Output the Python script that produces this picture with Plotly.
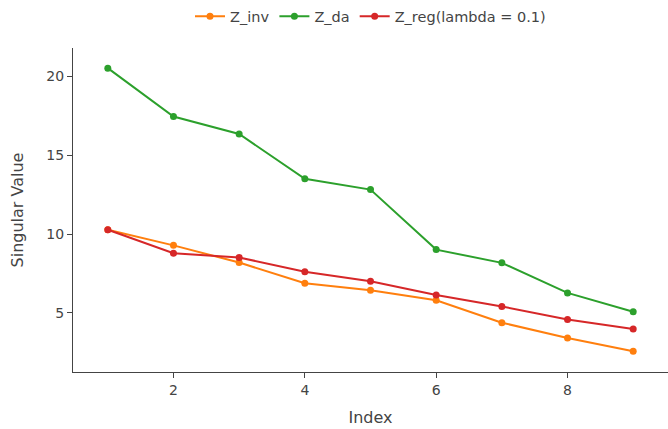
import plotly.graph_objects as go

index = [1, 2, 3, 4, 5, 6, 7, 8, 9]
z_inv = [10.27, 9.28, 8.19, 6.87, 6.43, 5.80, 4.37, 3.40, 2.56]
z_da = [20.53, 17.46, 16.35, 13.51, 12.82, 9.01, 8.17, 6.26, 5.06]
z_reg = [10.27, 8.78, 8.51, 7.61, 7.00, 6.13, 5.40, 4.58, 3.97]

names = ["Z_inv", "Z_da", "Z_reg(lambda = 0.1)"]
colors = ["#ff7f0e", "#2ca02c", "#d62728"]

fig = go.Figure()
for name, ys, c in zip(names, [z_inv, z_da, z_reg], colors):
    fig.add_trace(go.Scatter(x=index, y=ys, mode="lines+markers", name=name,
                             line=dict(color=c, width=2), marker=dict(color=c, size=7)))

fig.update_layout(
    template="simple_white",
    width=668, height=429,
    margin=dict(l=73, r=0, t=45, b=57),
    font=dict(family="DejaVu Sans", size=14, color="#444"),
    legend=dict(orientation="h", x=0.5, xanchor="center", y=1.098, yanchor="middle",
                font=dict(size=14.5)),
    xaxis=dict(title=dict(text="Index", font=dict(size=16)), range=[0.47, 9.53],
               ticks="outside", showline=True, linecolor="#444", tickcolor="#444",
               dtick=2, tick0=0, tickfont=dict(size=14)),
    yaxis=dict(title=dict(text="Singular Value", font=dict(size=16), standoff=18),
               range=[1.24, 21.81],
               ticks="outside", showline=True, linecolor="#444", tickcolor="#444",
               dtick=5, tick0=0, tickfont=dict(size=14)),
)
fig.write_html("out.html")
